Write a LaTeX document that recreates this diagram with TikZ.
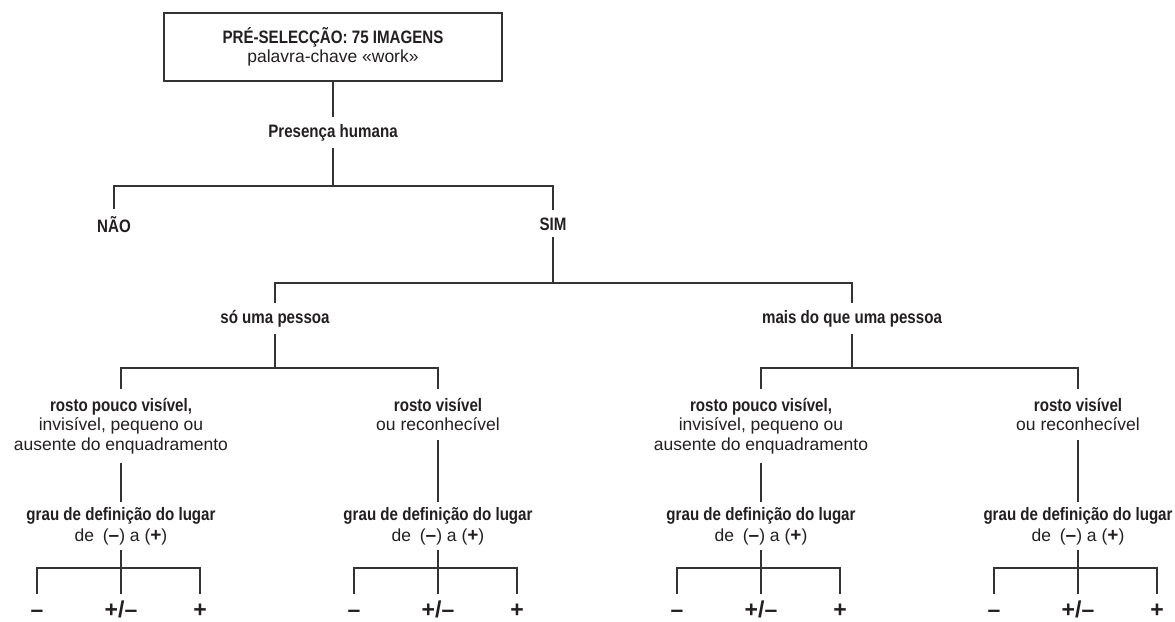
\documentclass[tikz,border=0pt]{standalone}
\usepackage{fontspec}
\setmainfont{Liberation Sans}[BoldFeatures={FakeStretch=0.84}]
\newfontfamily\leaffont{Liberation Sans}
\definecolor{ink}{HTML}{231F20}
\definecolor{wire}{HTML}{333333}
\newcommand\bsz{\fontsize{18}{19.5}\selectfont\bfseries}
\newcommand\rsz{\fontsize{17.5}{19.5}\selectfont\mdseries}
\newcommand\gmark[1]{{\leaffont\bfseries\fontsize{19}{19}\selectfont #1}}
\begin{document}
\begin{tikzpicture}[x=1pt,y=-1pt,
  lbl/.style={font=\bsz, text=ink, inner xsep=1pt, inner ysep=7pt, anchor=base},
  multi/.style={font=\rsz, text=ink, align=center, inner xsep=1pt, inner ysep=9pt, anchor=north},
  grau/.style={font=\fontsize{17.5}{21}\selectfont, text=ink, align=center, inner xsep=1pt, inner ysep=5pt, anchor=north},
  leaf/.style={font=\leaffont\bfseries\fontsize{23}{23}\selectfont, text=ink, inner sep=0pt, text height=23pt, text depth=0pt, anchor=base},
  conn/.style={draw=wire, line width=1.2pt},
  topbox/.style={draw=wire, line width=1.4pt, minimum width=338pt, minimum height=68pt, align=center, text=ink, inner sep=0pt, font=\rsz}]
\useasboundingbox (0,0) rectangle (1175,621);

\node[topbox] (top) at (333,47) {{\bsz PRÉ-SELECÇÃO: 75 IMAGENS}\\palavra-chave «work»};
\node[lbl] (pres) at (333,137) {Presença humana};
\coordinate (j1) at (333,186);
\node[lbl] (nao) at (114,232) {NÃO};
\node[lbl] (sim) at (553,230) {SIM};
\coordinate (j2) at (553,283);
\node[lbl] (so) at (275,323) {só uma pessoa};
\node[lbl] (mais) at (852,323) {mais do que uma pessoa};
\coordinate (j3) at (275,368);
\coordinate (j4) at (852,368);

\node[multi] (r1) at (121,389) {{\bsz rosto pouco visível,}\\invisível, pequeno ou\\ausente do enquadramento};
\node[multi] (r2) at (438,389) {{\bsz rosto visível}\\ou reconhecível};
\node[multi] (r3) at (761,389) {{\bsz rosto pouco visível,}\\invisível, pequeno ou\\ausente do enquadramento};
\node[multi] (r4) at (1078,389) {{\bsz rosto visível}\\ou reconhecível};

\foreach \c/\n in {121/1,438/2,761/3,1078/4}{
  \node[grau] (g\n) at (\c,502) {{\bsz grau de definição do lugar}\\de\enspace(\gmark{–}) a (\gmark{+})};
  \coordinate (k\n) at (\c,568);
  \node[leaf] (a\n) at (\c-84,617) {–};
  \node[leaf] (b\n) at (\c,617) {+/–};
  \node[leaf] (c\n) at (\c+79,617) {+};
  \draw[conn] (r\n) -- (g\n);
  \draw[conn] (g\n) -- (k\n) (k\n) -| (a\n) (k\n) -- (b\n) (k\n) -| (c\n);
}

\draw[conn] (top) -- (pres);
\draw[conn] (pres) -- (j1) (j1) -| (nao) (j1) -| (sim);
\draw[conn] (sim) -- (j2) (j2) -| (so) (j2) -| (mais);
\draw[conn] (so) -- (j3) (j3) -| (r1) (j3) -| (r2);
\draw[conn] (mais) -- (j4) (j4) -| (r3) (j4) -| (r4);
\end{tikzpicture}
\end{document}
